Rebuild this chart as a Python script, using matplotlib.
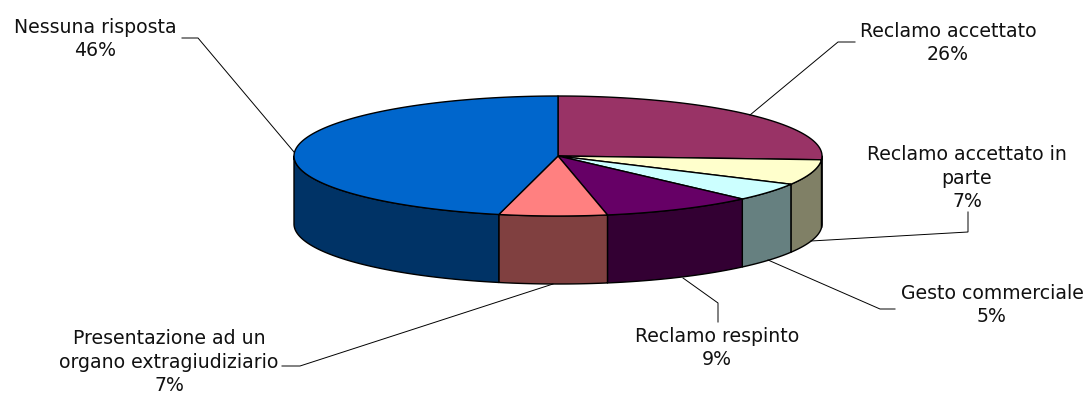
import numpy as np
import matplotlib
matplotlib.use("Agg")
import matplotlib.pyplot as plt
from matplotlib.patches import Polygon

categories = ["Reclamo accettato", "Reclamo accettato in\nparte", "Gesto commerciale",
              "Reclamo respinto", "Presentazione ad un\norgano extragiudiziario", "Nessuna risposta"]
shares = [26.0, 6.8, 4.9, 9.3, 6.6, 46.4]
top_colors = ["#993366", "#FFFFCC", "#CCFFFF", "#660066", "#FF8080", "#0066CC"]
side_colors = ["#803355", "#808066", "#668080", "#330033", "#804040", "#003366"]
label_pos = [(948, 43), (967, 178), (992, 305), (717, 348), (169, 362), (95, 39)]
leaders = [[(855, 42), (838, 42), (750, 115)],
           [(968, 212), (968, 232), (811, 241)],
           [(895, 309), (880, 309), (768, 260)],
           [(718, 322), (718, 303), (683, 278)],
           [(282, 366), (300, 366), (553, 284)],
           [(182, 38), (198, 38), (294, 152)]]

W, H = 1088, 394
cx, cy, rx, ry, depth = 558, 156, 264, 60, 68

plt.rcParams["font.family"] = ["DejaVu Sans"]
fig = plt.figure(figsize=(W / 100, H / 100), dpi=100, facecolor="white")
ax = fig.add_axes([0, 0, 1, 1])
ax.set_xlim(0, W)
ax.set_ylim(H, 0)
ax.axis("off")


def rim(t, dy=0):
    return np.column_stack([cx + rx * np.sin(t), cy + dy - ry * np.cos(t)])


edges = np.radians(np.cumsum([0] + shares) / sum(shares) * 360)
# side walls, back to front
for i in range(len(shares)):
    a = max(edges[i], np.pi / 2)
    b = min(edges[i + 1], 3 * np.pi / 2)
    if a < b:
        t = np.linspace(a, b, 120)
        pts = np.vstack([rim(t), rim(t[::-1], depth)])
        ax.add_patch(Polygon(pts, closed=True, fc=side_colors[i], ec="black", lw=1.0, joinstyle="round"))
# top faces
for i in range(len(shares)):
    t = np.linspace(edges[i], edges[i + 1], 200)
    pts = np.vstack([[(cx, cy)], rim(t)])
    ax.add_patch(Polygon(pts, closed=True, fc=top_colors[i], ec="black", lw=1.0, joinstyle="round"))

for name, v, (x, y), line in zip(categories, shares, label_pos, leaders):
    xs, ys = zip(*line)
    ax.plot(xs, ys, color="black", lw=0.7, solid_joinstyle="miter")
    ax.text(x, y, f"{name}\n{v:.0f}%", ha="center", va="center", fontsize=13.6, color="#111111",
            linespacing=1.3)

fig.savefig("out.png", dpi=100, facecolor="white")
